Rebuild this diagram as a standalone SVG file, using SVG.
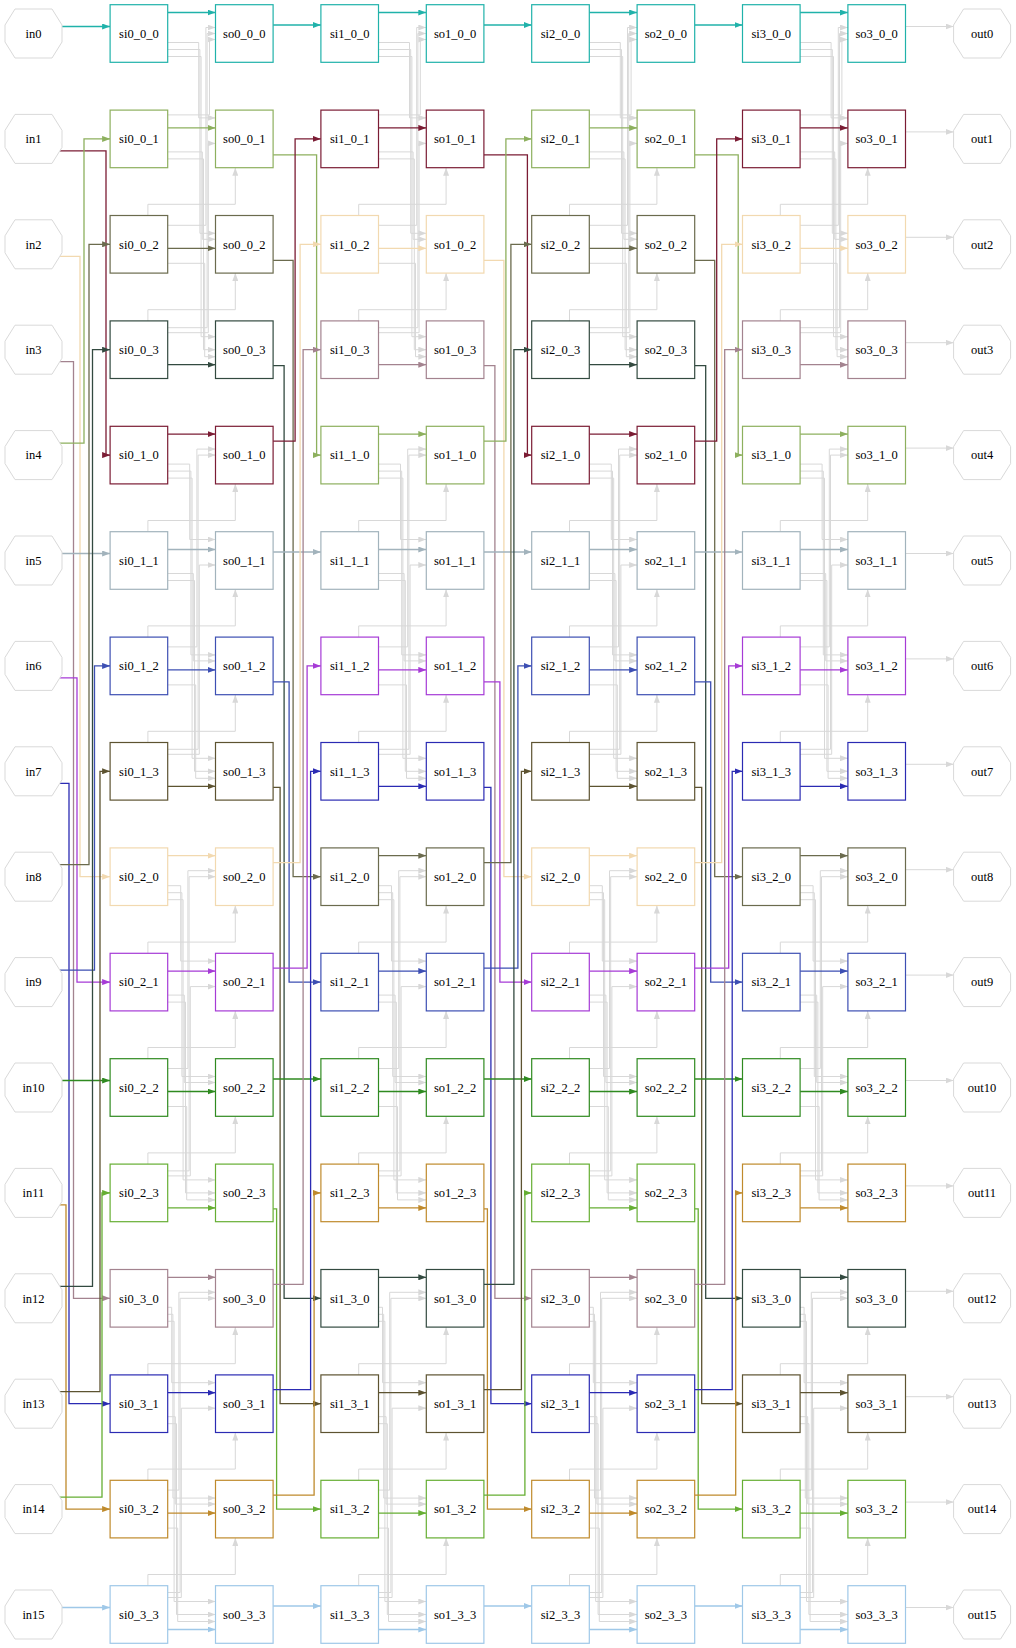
<svg xmlns="http://www.w3.org/2000/svg" xmlns:xlink="http://www.w3.org/1999/xlink" width="1016" height="1648" viewBox="0 0 1016 1648">
<style>
text{font-family:"Liberation Serif",serif;font-size:12.5px;text-anchor:middle;fill:#000}
.nodes{stroke-width:1.2}
.e path{fill:none;stroke-width:1.3}
.k0{stroke:#20b2aa} path.k0{marker-end:url(#a0)}
.k1{stroke:#7b1c34} path.k1{marker-end:url(#a1)}
.k2{stroke:#f2d9b0} path.k2{marker-end:url(#a2)}
.k3{stroke:#a3838f} path.k3{marker-end:url(#a3)}
.k4{stroke:#8db05e} path.k4{marker-end:url(#a4)}
.k5{stroke:#a2b3bc} path.k5{marker-end:url(#a5)}
.k6{stroke:#a63bd6} path.k6{marker-end:url(#a6)}
.k7{stroke:#2b2bb3} path.k7{marker-end:url(#a7)}
.k8{stroke:#6b6b4e} path.k8{marker-end:url(#a8)}
.k9{stroke:#3d4fb3} path.k9{marker-end:url(#a9)}
.k10{stroke:#2f8a20} path.k10{marker-end:url(#a10)}
.k11{stroke:#bf8a2c} path.k11{marker-end:url(#a11)}
.k12{stroke:#334a40} path.k12{marker-end:url(#a12)}
.k13{stroke:#5d5331} path.k13{marker-end:url(#a13)}
.k14{stroke:#66ae33} path.k14{marker-end:url(#a14)}
.k15{stroke:#9fc8e8} path.k15{marker-end:url(#a15)}
.g path{fill:none;stroke:#d8d8d8;stroke-width:1;marker-end:url(#ag)}
</style>
<defs>
<marker id="a0" viewBox="0 0 8 6" refX="8" refY="3" markerWidth="8" markerHeight="6" markerUnits="userSpaceOnUse" orient="auto"><path d="M0,0L8,3L0,6z" fill="#20b2aa"/></marker>
<marker id="a1" viewBox="0 0 8 6" refX="8" refY="3" markerWidth="8" markerHeight="6" markerUnits="userSpaceOnUse" orient="auto"><path d="M0,0L8,3L0,6z" fill="#7b1c34"/></marker>
<marker id="a2" viewBox="0 0 8 6" refX="8" refY="3" markerWidth="8" markerHeight="6" markerUnits="userSpaceOnUse" orient="auto"><path d="M0,0L8,3L0,6z" fill="#f2d9b0"/></marker>
<marker id="a3" viewBox="0 0 8 6" refX="8" refY="3" markerWidth="8" markerHeight="6" markerUnits="userSpaceOnUse" orient="auto"><path d="M0,0L8,3L0,6z" fill="#a3838f"/></marker>
<marker id="a4" viewBox="0 0 8 6" refX="8" refY="3" markerWidth="8" markerHeight="6" markerUnits="userSpaceOnUse" orient="auto"><path d="M0,0L8,3L0,6z" fill="#8db05e"/></marker>
<marker id="a5" viewBox="0 0 8 6" refX="8" refY="3" markerWidth="8" markerHeight="6" markerUnits="userSpaceOnUse" orient="auto"><path d="M0,0L8,3L0,6z" fill="#a2b3bc"/></marker>
<marker id="a6" viewBox="0 0 8 6" refX="8" refY="3" markerWidth="8" markerHeight="6" markerUnits="userSpaceOnUse" orient="auto"><path d="M0,0L8,3L0,6z" fill="#a63bd6"/></marker>
<marker id="a7" viewBox="0 0 8 6" refX="8" refY="3" markerWidth="8" markerHeight="6" markerUnits="userSpaceOnUse" orient="auto"><path d="M0,0L8,3L0,6z" fill="#2b2bb3"/></marker>
<marker id="a8" viewBox="0 0 8 6" refX="8" refY="3" markerWidth="8" markerHeight="6" markerUnits="userSpaceOnUse" orient="auto"><path d="M0,0L8,3L0,6z" fill="#6b6b4e"/></marker>
<marker id="a9" viewBox="0 0 8 6" refX="8" refY="3" markerWidth="8" markerHeight="6" markerUnits="userSpaceOnUse" orient="auto"><path d="M0,0L8,3L0,6z" fill="#3d4fb3"/></marker>
<marker id="a10" viewBox="0 0 8 6" refX="8" refY="3" markerWidth="8" markerHeight="6" markerUnits="userSpaceOnUse" orient="auto"><path d="M0,0L8,3L0,6z" fill="#2f8a20"/></marker>
<marker id="a11" viewBox="0 0 8 6" refX="8" refY="3" markerWidth="8" markerHeight="6" markerUnits="userSpaceOnUse" orient="auto"><path d="M0,0L8,3L0,6z" fill="#bf8a2c"/></marker>
<marker id="a12" viewBox="0 0 8 6" refX="8" refY="3" markerWidth="8" markerHeight="6" markerUnits="userSpaceOnUse" orient="auto"><path d="M0,0L8,3L0,6z" fill="#334a40"/></marker>
<marker id="a13" viewBox="0 0 8 6" refX="8" refY="3" markerWidth="8" markerHeight="6" markerUnits="userSpaceOnUse" orient="auto"><path d="M0,0L8,3L0,6z" fill="#5d5331"/></marker>
<marker id="a14" viewBox="0 0 8 6" refX="8" refY="3" markerWidth="8" markerHeight="6" markerUnits="userSpaceOnUse" orient="auto"><path d="M0,0L8,3L0,6z" fill="#66ae33"/></marker>
<marker id="a15" viewBox="0 0 8 6" refX="8" refY="3" markerWidth="8" markerHeight="6" markerUnits="userSpaceOnUse" orient="auto"><path d="M0,0L8,3L0,6z" fill="#9fc8e8"/></marker>
<marker id="ag" viewBox="0 0 8 6" refX="8" refY="3" markerWidth="8" markerHeight="6" markerUnits="userSpaceOnUse" orient="auto"><path d="M0,0L8,3L0,6z" fill="#d8d8d8"/></marker>
<rect id="bx" width="57.6" height="57.6" fill="#fff"/>
<polygon id="oc" points="-18.5,-24.5 18.5,-24.5 28.5,-8.5 28.5,8.5 18.5,24.5 -18.5,24.5 -28.5,8.5 -28.5,-8.5" fill="#fff" stroke="#d9d9d9" stroke-width="1"/>
<g id="xa0" fill="none" stroke="#d8d8d8" stroke-width="1" marker-end="url(#ag)">
<path d="M28.8,9H59.8V84.4H76.6"/><path d="M28.8,16H61V199.8H76.6"/><path d="M28.8,23H62.2V303.2H76.6"/>
<path d="M28.8,118.4H63.4V205.8H76.6"/><path d="M28.8,125.4H64.6V316.2H76.6"/><path d="M28.8,229.8H65.8V323.2H76.6"/>
<path d="M28.8,191.8H67V-6H76.6"/><path d="M28.8,294.2H68.2V0H76.6"/><path d="M28.8,299.2H69.4V109.9H76.6"/>
<path d="M28.8,81.4H70.6V6H76.6"/><path d="M9,182V170.8H96.4V134.2"/><path d="M9,287.4V276.2H96.4V239.6"/>
</g>
<g id="xa1" fill="none" stroke="#d8d8d8" stroke-width="1" marker-end="url(#ag)">
<path d="M28.8,9H50.8V84.4H76.6"/><path d="M28.8,16H52V199.8H76.6"/><path d="M28.8,23H53.2V303.2H76.6"/>
<path d="M28.8,118.4H54.4V205.8H76.6"/><path d="M28.8,125.4H55.6V316.2H76.6"/><path d="M28.8,229.8H56.8V323.2H76.6"/>
<path d="M28.8,191.8H58V-6H76.6"/><path d="M28.8,294.2H59.2V0H76.6"/><path d="M28.8,299.2H60.4V109.9H76.6"/>
<path d="M9,76.6V65.4H96.4V28.8"/><path d="M9,182V170.8H96.4V134.2"/><path d="M9,287.4V276.2H96.4V239.6"/>
</g>
<g id="xa2" fill="none" stroke="#d8d8d8" stroke-width="1" marker-end="url(#ag)">
<path d="M28.8,9H41.8V84.4H76.6"/><path d="M28.8,16H43V199.8H76.6"/><path d="M28.8,23H44.2V303.2H76.6"/>
<path d="M28.8,118.4H45.4V205.8H76.6"/><path d="M28.8,125.4H46.6V316.2H76.6"/><path d="M28.8,229.8H47.8V323.2H76.6"/>
<path d="M28.8,191.8H49V-6H76.6"/><path d="M28.8,294.2H50.2V0H76.6"/><path d="M28.8,299.2H51.4V109.9H76.6"/>
<path d="M9,76.6V65.4H96.4V28.8"/><path d="M9,182V170.8H96.4V134.2"/><path d="M9,287.4V276.2H96.4V239.6"/>
</g>
<g id="xa3" fill="none" stroke="#d8d8d8" stroke-width="1" marker-end="url(#ag)">
<path d="M28.8,9H32.8V84.4H76.6"/><path d="M28.8,16H34V199.8H76.6"/><path d="M28.8,23H35.2V303.2H76.6"/>
<path d="M28.8,118.4H36.4V205.8H76.6"/><path d="M28.8,125.4H37.6V316.2H76.6"/><path d="M28.8,229.8H38.8V323.2H76.6"/>
<path d="M28.8,191.8H40V-6H76.6"/><path d="M28.8,294.2H41.2V0H76.6"/><path d="M28.8,299.2H42.4V109.9H76.6"/>
<path d="M9,76.6V65.4H96.4V28.8"/><path d="M9,182V170.8H96.4V134.2"/><path d="M9,287.4V276.2H96.4V239.6"/>
</g>
</defs>
<rect width="1016" height="1648" fill="#fff"/>
<g id="connectors">
<g class="g">
<use href="#xa0" x="138.9" y="33.5"/><use href="#xa1" x="138.9" y="455.1"/><use href="#xa2" x="138.9" y="876.7"/><use href="#xa3" x="138.9" y="1298.3"/>
<use href="#xa0" x="349.7" y="33.5"/><use href="#xa1" x="349.7" y="455.1"/><use href="#xa2" x="349.7" y="876.7"/><use href="#xa3" x="349.7" y="1298.3"/>
<use href="#xa0" x="560.5" y="33.5"/><use href="#xa1" x="560.5" y="455.1"/><use href="#xa2" x="560.5" y="876.7"/><use href="#xa3" x="560.5" y="1298.3"/>
<use href="#xa0" x="771.3" y="33.5"/><use href="#xa1" x="771.3" y="455.1"/><use href="#xa2" x="771.3" y="876.7"/><use href="#xa3" x="771.3" y="1298.3"/>
<path d="M905.5,26.5H953.6"/><path d="M905.5,131.9H953.6"/><path d="M905.5,237.3H953.6"/><path d="M905.5,342.7H953.6"/>
<path d="M905.5,448.1H953.6"/><path d="M905.5,553.5H953.6"/><path d="M905.5,658.9H953.6"/><path d="M905.5,764.3H953.6"/>
<path d="M905.5,869.7H953.6"/><path d="M905.5,975.1H953.6"/><path d="M905.5,1080.5H953.6"/><path d="M905.5,1185.9H953.6"/>
<path d="M905.5,1291.3H953.6"/><path d="M905.5,1396.7H953.6"/><path d="M905.5,1502.1H953.6"/><path d="M905.5,1607.5H953.6"/>
</g>
<g class="e">
<path class="k0" d="M62,26.5H110.1"/>
<path class="k1" d="M60.1,150.9H106V455.1H110.1"/>
<path class="k2" d="M60.1,256.3H80V876.7H110.1"/>
<path class="k3" d="M60.1,361.7H73.5V1298.3H110.1"/>
<path class="k4" d="M60.1,443.1H84V138.9H110.1"/>
<path class="k5" d="M62,553.5H110.1"/>
<path class="k6" d="M60.1,677.9H77V982.1H110.1"/>
<path class="k7" d="M60.1,783.3H69V1403.7H110.1"/>
<path class="k8" d="M60.1,864.7H89V244.3H110.1"/>
<path class="k9" d="M60.1,970.1H94.5V665.9H110.1"/>
<path class="k10" d="M62,1080.5H110.1"/>
<path class="k11" d="M60.1,1204.9H66V1509.1H110.1"/>
<path class="k12" d="M60.1,1286.3H92.5V349.7H110.1"/>
<path class="k13" d="M60.1,1391.7H100V771.3H110.1"/>
<path class="k14" d="M60.1,1497.1H102V1192.9H110.1"/>
<path class="k15" d="M62,1607.5H110.1"/>

<path class="k0" d="M167.7,12.5H215.5"/><path class="k4" d="M167.7,127.9H215.5"/><path class="k8" d="M167.7,248.3H215.5"/><path class="k12" d="M167.7,364.7H215.5"/>
<path class="k1" d="M167.7,434.1H215.5"/><path class="k5" d="M167.7,549.5H215.5"/><path class="k9" d="M167.7,669.9H215.5"/><path class="k13" d="M167.7,786.3H215.5"/>
<path class="k2" d="M167.7,855.7H215.5"/><path class="k6" d="M167.7,971.1H215.5"/><path class="k10" d="M167.7,1091.5H215.5"/><path class="k14" d="M167.7,1207.9H215.5"/>
<path class="k3" d="M167.7,1277.3H215.5"/><path class="k7" d="M167.7,1392.7H215.5"/><path class="k11" d="M167.7,1513.1H215.5"/><path class="k15" d="M167.7,1629.5H215.5"/>

<path class="k0" d="M378.5,12.5H426.3"/><path class="k1" d="M378.5,127.9H426.3"/><path class="k2" d="M378.5,248.3H426.3"/><path class="k3" d="M378.5,364.7H426.3"/>
<path class="k4" d="M378.5,434.1H426.3"/><path class="k5" d="M378.5,549.5H426.3"/><path class="k6" d="M378.5,669.9H426.3"/><path class="k7" d="M378.5,786.3H426.3"/>
<path class="k8" d="M378.5,855.7H426.3"/><path class="k9" d="M378.5,971.1H426.3"/><path class="k10" d="M378.5,1091.5H426.3"/><path class="k11" d="M378.5,1207.9H426.3"/>
<path class="k12" d="M378.5,1277.3H426.3"/><path class="k13" d="M378.5,1392.7H426.3"/><path class="k14" d="M378.5,1513.1H426.3"/><path class="k15" d="M378.5,1629.5H426.3"/>

<path class="k0" d="M589.3,12.5H637.1"/><path class="k4" d="M589.3,127.9H637.1"/><path class="k8" d="M589.3,248.3H637.1"/><path class="k12" d="M589.3,364.7H637.1"/>
<path class="k1" d="M589.3,434.1H637.1"/><path class="k5" d="M589.3,549.5H637.1"/><path class="k9" d="M589.3,669.9H637.1"/><path class="k13" d="M589.3,786.3H637.1"/>
<path class="k2" d="M589.3,855.7H637.1"/><path class="k6" d="M589.3,971.1H637.1"/><path class="k10" d="M589.3,1091.5H637.1"/><path class="k14" d="M589.3,1207.9H637.1"/>
<path class="k3" d="M589.3,1277.3H637.1"/><path class="k7" d="M589.3,1392.7H637.1"/><path class="k11" d="M589.3,1513.1H637.1"/><path class="k15" d="M589.3,1629.5H637.1"/>

<path class="k0" d="M800.1,12.5H847.9"/><path class="k1" d="M800.1,127.9H847.9"/><path class="k2" d="M800.1,248.3H847.9"/><path class="k3" d="M800.1,364.7H847.9"/>
<path class="k4" d="M800.1,434.1H847.9"/><path class="k5" d="M800.1,549.5H847.9"/><path class="k6" d="M800.1,669.9H847.9"/><path class="k7" d="M800.1,786.3H847.9"/>
<path class="k8" d="M800.1,855.7H847.9"/><path class="k9" d="M800.1,971.1H847.9"/><path class="k10" d="M800.1,1091.5H847.9"/><path class="k11" d="M800.1,1207.9H847.9"/>
<path class="k12" d="M800.1,1277.3H847.9"/><path class="k13" d="M800.1,1392.7H847.9"/><path class="k14" d="M800.1,1513.1H847.9"/><path class="k15" d="M800.1,1629.5H847.9"/>

<path class="k0" d="M273.1,25H320.9"/>
<path class="k4" d="M273.1,154.9H316.6V455.1H320.9"/>
<path class="k8" d="M273.1,260.3H293.1V876.7H320.9"/>
<path class="k12" d="M273.1,365.7H284.1V1298.3H320.9"/>
<path class="k1" d="M273.1,441.1H295.1V138.9H320.9"/>
<path class="k5" d="M273.1,552H320.9"/>
<path class="k9" d="M273.1,681.9H289.1V982.1H320.9"/>
<path class="k13" d="M273.1,787.3H280.1V1403.7H320.9"/>
<path class="k2" d="M273.1,862.7H300.1V244.3H320.9"/>
<path class="k6" d="M273.1,968.1H307.1V665.9H320.9"/>
<path class="k10" d="M273.1,1079H320.9"/>
<path class="k14" d="M273.1,1208.9H276.6V1509.1H320.9"/>
<path class="k3" d="M273.1,1284.3H303.1V349.7H320.9"/>
<path class="k7" d="M273.1,1389.7H310.6V771.3H320.9"/>
<path class="k11" d="M273.1,1495.1H314.1V1192.9H320.9"/>
<path class="k15" d="M273.1,1606H320.9"/>

<path class="k0" d="M483.9,25H531.7"/>
<path class="k1" d="M483.9,154.9H527.4V455.1H531.7"/>
<path class="k2" d="M483.9,260.3H503.9V876.7H531.7"/>
<path class="k3" d="M483.9,365.7H494.9V1298.3H531.7"/>
<path class="k4" d="M483.9,441.1H505.9V138.9H531.7"/>
<path class="k5" d="M483.9,552H531.7"/>
<path class="k6" d="M483.9,681.9H499.9V982.1H531.7"/>
<path class="k7" d="M483.9,787.3H490.9V1403.7H531.7"/>
<path class="k8" d="M483.9,862.7H510.9V244.3H531.7"/>
<path class="k9" d="M483.9,968.1H517.9V665.9H531.7"/>
<path class="k10" d="M483.9,1079H531.7"/>
<path class="k11" d="M483.9,1208.9H487.4V1509.1H531.7"/>
<path class="k12" d="M483.9,1284.3H513.9V349.7H531.7"/>
<path class="k13" d="M483.9,1389.7H521.4V771.3H531.7"/>
<path class="k14" d="M483.9,1495.1H524.9V1192.9H531.7"/>
<path class="k15" d="M483.9,1606H531.7"/>

<path class="k0" d="M694.7,25H742.5"/>
<path class="k4" d="M694.7,154.9H738.2V455.1H742.5"/>
<path class="k8" d="M694.7,260.3H714.7V876.7H742.5"/>
<path class="k12" d="M694.7,365.7H705.7V1298.3H742.5"/>
<path class="k1" d="M694.7,441.1H716.7V138.9H742.5"/>
<path class="k5" d="M694.7,552H742.5"/>
<path class="k9" d="M694.7,681.9H710.7V982.1H742.5"/>
<path class="k13" d="M694.7,787.3H701.7V1403.7H742.5"/>
<path class="k2" d="M694.7,862.7H721.7V244.3H742.5"/>
<path class="k6" d="M694.7,968.1H728.7V665.9H742.5"/>
<path class="k10" d="M694.7,1079H742.5"/>
<path class="k14" d="M694.7,1208.9H698.2V1509.1H742.5"/>
<path class="k3" d="M694.7,1284.3H724.7V349.7H742.5"/>
<path class="k7" d="M694.7,1389.7H732.2V771.3H742.5"/>
<path class="k11" d="M694.7,1495.1H735.7V1192.9H742.5"/>
<path class="k15" d="M694.7,1606H742.5"/>
</g>
</g>
<g class="nodes">
<g id="in0"><use href="#oc" x="33.5" y="33.5"/><text x="33.5" y="37.8">in0</text></g>
<g id="in1"><use href="#oc" x="33.5" y="138.9"/><text x="33.5" y="143.2">in1</text></g>
<g id="in2"><use href="#oc" x="33.5" y="244.3"/><text x="33.5" y="248.6">in2</text></g>
<g id="in3"><use href="#oc" x="33.5" y="349.7"/><text x="33.5" y="354">in3</text></g>
<g id="in4"><use href="#oc" x="33.5" y="455.1"/><text x="33.5" y="459.4">in4</text></g>
<g id="in5"><use href="#oc" x="33.5" y="560.5"/><text x="33.5" y="564.8">in5</text></g>
<g id="in6"><use href="#oc" x="33.5" y="665.9"/><text x="33.5" y="670.2">in6</text></g>
<g id="in7"><use href="#oc" x="33.5" y="771.3"/><text x="33.5" y="775.6">in7</text></g>
<g id="in8"><use href="#oc" x="33.5" y="876.7"/><text x="33.5" y="881">in8</text></g>
<g id="in9"><use href="#oc" x="33.5" y="982.1"/><text x="33.5" y="986.4">in9</text></g>
<g id="in10"><use href="#oc" x="33.5" y="1087.5"/><text x="33.5" y="1091.8">in10</text></g>
<g id="in11"><use href="#oc" x="33.5" y="1192.9"/><text x="33.5" y="1197.2">in11</text></g>
<g id="in12"><use href="#oc" x="33.5" y="1298.3"/><text x="33.5" y="1302.6">in12</text></g>
<g id="in13"><use href="#oc" x="33.5" y="1403.7"/><text x="33.5" y="1408">in13</text></g>
<g id="in14"><use href="#oc" x="33.5" y="1509.1"/><text x="33.5" y="1513.4">in14</text></g>
<g id="in15"><use href="#oc" x="33.5" y="1614.5"/><text x="33.5" y="1618.8">in15</text></g>

<g id="out0"><use href="#oc" x="982.1" y="33.5"/><text x="982.1" y="37.8">out0</text></g>
<g id="out1"><use href="#oc" x="982.1" y="138.9"/><text x="982.1" y="143.2">out1</text></g>
<g id="out2"><use href="#oc" x="982.1" y="244.3"/><text x="982.1" y="248.6">out2</text></g>
<g id="out3"><use href="#oc" x="982.1" y="349.7"/><text x="982.1" y="354">out3</text></g>
<g id="out4"><use href="#oc" x="982.1" y="455.1"/><text x="982.1" y="459.4">out4</text></g>
<g id="out5"><use href="#oc" x="982.1" y="560.5"/><text x="982.1" y="564.8">out5</text></g>
<g id="out6"><use href="#oc" x="982.1" y="665.9"/><text x="982.1" y="670.2">out6</text></g>
<g id="out7"><use href="#oc" x="982.1" y="771.3"/><text x="982.1" y="775.6">out7</text></g>
<g id="out8"><use href="#oc" x="982.1" y="876.7"/><text x="982.1" y="881">out8</text></g>
<g id="out9"><use href="#oc" x="982.1" y="982.1"/><text x="982.1" y="986.4">out9</text></g>
<g id="out10"><use href="#oc" x="982.1" y="1087.5"/><text x="982.1" y="1091.8">out10</text></g>
<g id="out11"><use href="#oc" x="982.1" y="1192.9"/><text x="982.1" y="1197.2">out11</text></g>
<g id="out12"><use href="#oc" x="982.1" y="1298.3"/><text x="982.1" y="1302.6">out12</text></g>
<g id="out13"><use href="#oc" x="982.1" y="1403.7"/><text x="982.1" y="1408">out13</text></g>
<g id="out14"><use href="#oc" x="982.1" y="1509.1"/><text x="982.1" y="1513.4">out14</text></g>
<g id="out15"><use href="#oc" x="982.1" y="1614.5"/><text x="982.1" y="1618.8">out15</text></g>

<g id="si0_0_0"><use href="#bx" class="k0" x="110.1" y="4.7"/><text x="138.9" y="37.8">si0_0_0</text></g>
<g id="si0_0_1"><use href="#bx" class="k4" x="110.1" y="110.1"/><text x="138.9" y="143.2">si0_0_1</text></g>
<g id="si0_0_2"><use href="#bx" class="k8" x="110.1" y="215.5"/><text x="138.9" y="248.6">si0_0_2</text></g>
<g id="si0_0_3"><use href="#bx" class="k12" x="110.1" y="320.9"/><text x="138.9" y="354">si0_0_3</text></g>
<g id="si0_1_0"><use href="#bx" class="k1" x="110.1" y="426.3"/><text x="138.9" y="459.4">si0_1_0</text></g>
<g id="si0_1_1"><use href="#bx" class="k5" x="110.1" y="531.7"/><text x="138.9" y="564.8">si0_1_1</text></g>
<g id="si0_1_2"><use href="#bx" class="k9" x="110.1" y="637.1"/><text x="138.9" y="670.2">si0_1_2</text></g>
<g id="si0_1_3"><use href="#bx" class="k13" x="110.1" y="742.5"/><text x="138.9" y="775.6">si0_1_3</text></g>
<g id="si0_2_0"><use href="#bx" class="k2" x="110.1" y="847.9"/><text x="138.9" y="881">si0_2_0</text></g>
<g id="si0_2_1"><use href="#bx" class="k6" x="110.1" y="953.3"/><text x="138.9" y="986.4">si0_2_1</text></g>
<g id="si0_2_2"><use href="#bx" class="k10" x="110.1" y="1058.7"/><text x="138.9" y="1091.8">si0_2_2</text></g>
<g id="si0_2_3"><use href="#bx" class="k14" x="110.1" y="1164.1"/><text x="138.9" y="1197.2">si0_2_3</text></g>
<g id="si0_3_0"><use href="#bx" class="k3" x="110.1" y="1269.5"/><text x="138.9" y="1302.6">si0_3_0</text></g>
<g id="si0_3_1"><use href="#bx" class="k7" x="110.1" y="1374.9"/><text x="138.9" y="1408">si0_3_1</text></g>
<g id="si0_3_2"><use href="#bx" class="k11" x="110.1" y="1480.3"/><text x="138.9" y="1513.4">si0_3_2</text></g>
<g id="si0_3_3"><use href="#bx" class="k15" x="110.1" y="1585.7"/><text x="138.9" y="1618.8">si0_3_3</text></g>

<g id="so0_0_0"><use href="#bx" class="k0" x="215.5" y="4.7"/><text x="244.3" y="37.8">so0_0_0</text></g>
<g id="so0_0_1"><use href="#bx" class="k4" x="215.5" y="110.1"/><text x="244.3" y="143.2">so0_0_1</text></g>
<g id="so0_0_2"><use href="#bx" class="k8" x="215.5" y="215.5"/><text x="244.3" y="248.6">so0_0_2</text></g>
<g id="so0_0_3"><use href="#bx" class="k12" x="215.5" y="320.9"/><text x="244.3" y="354">so0_0_3</text></g>
<g id="so0_1_0"><use href="#bx" class="k1" x="215.5" y="426.3"/><text x="244.3" y="459.4">so0_1_0</text></g>
<g id="so0_1_1"><use href="#bx" class="k5" x="215.5" y="531.7"/><text x="244.3" y="564.8">so0_1_1</text></g>
<g id="so0_1_2"><use href="#bx" class="k9" x="215.5" y="637.1"/><text x="244.3" y="670.2">so0_1_2</text></g>
<g id="so0_1_3"><use href="#bx" class="k13" x="215.5" y="742.5"/><text x="244.3" y="775.6">so0_1_3</text></g>
<g id="so0_2_0"><use href="#bx" class="k2" x="215.5" y="847.9"/><text x="244.3" y="881">so0_2_0</text></g>
<g id="so0_2_1"><use href="#bx" class="k6" x="215.5" y="953.3"/><text x="244.3" y="986.4">so0_2_1</text></g>
<g id="so0_2_2"><use href="#bx" class="k10" x="215.5" y="1058.7"/><text x="244.3" y="1091.8">so0_2_2</text></g>
<g id="so0_2_3"><use href="#bx" class="k14" x="215.5" y="1164.1"/><text x="244.3" y="1197.2">so0_2_3</text></g>
<g id="so0_3_0"><use href="#bx" class="k3" x="215.5" y="1269.5"/><text x="244.3" y="1302.6">so0_3_0</text></g>
<g id="so0_3_1"><use href="#bx" class="k7" x="215.5" y="1374.9"/><text x="244.3" y="1408">so0_3_1</text></g>
<g id="so0_3_2"><use href="#bx" class="k11" x="215.5" y="1480.3"/><text x="244.3" y="1513.4">so0_3_2</text></g>
<g id="so0_3_3"><use href="#bx" class="k15" x="215.5" y="1585.7"/><text x="244.3" y="1618.8">so0_3_3</text></g>

<g id="si1_0_0"><use href="#bx" class="k0" x="320.9" y="4.7"/><text x="349.7" y="37.8">si1_0_0</text></g>
<g id="si1_0_1"><use href="#bx" class="k1" x="320.9" y="110.1"/><text x="349.7" y="143.2">si1_0_1</text></g>
<g id="si1_0_2"><use href="#bx" class="k2" x="320.9" y="215.5"/><text x="349.7" y="248.6">si1_0_2</text></g>
<g id="si1_0_3"><use href="#bx" class="k3" x="320.9" y="320.9"/><text x="349.7" y="354">si1_0_3</text></g>
<g id="si1_1_0"><use href="#bx" class="k4" x="320.9" y="426.3"/><text x="349.7" y="459.4">si1_1_0</text></g>
<g id="si1_1_1"><use href="#bx" class="k5" x="320.9" y="531.7"/><text x="349.7" y="564.8">si1_1_1</text></g>
<g id="si1_1_2"><use href="#bx" class="k6" x="320.9" y="637.1"/><text x="349.7" y="670.2">si1_1_2</text></g>
<g id="si1_1_3"><use href="#bx" class="k7" x="320.9" y="742.5"/><text x="349.7" y="775.6">si1_1_3</text></g>
<g id="si1_2_0"><use href="#bx" class="k8" x="320.9" y="847.9"/><text x="349.7" y="881">si1_2_0</text></g>
<g id="si1_2_1"><use href="#bx" class="k9" x="320.9" y="953.3"/><text x="349.7" y="986.4">si1_2_1</text></g>
<g id="si1_2_2"><use href="#bx" class="k10" x="320.9" y="1058.7"/><text x="349.7" y="1091.8">si1_2_2</text></g>
<g id="si1_2_3"><use href="#bx" class="k11" x="320.9" y="1164.1"/><text x="349.7" y="1197.2">si1_2_3</text></g>
<g id="si1_3_0"><use href="#bx" class="k12" x="320.9" y="1269.5"/><text x="349.7" y="1302.6">si1_3_0</text></g>
<g id="si1_3_1"><use href="#bx" class="k13" x="320.9" y="1374.9"/><text x="349.7" y="1408">si1_3_1</text></g>
<g id="si1_3_2"><use href="#bx" class="k14" x="320.9" y="1480.3"/><text x="349.7" y="1513.4">si1_3_2</text></g>
<g id="si1_3_3"><use href="#bx" class="k15" x="320.9" y="1585.7"/><text x="349.7" y="1618.8">si1_3_3</text></g>

<g id="so1_0_0"><use href="#bx" class="k0" x="426.3" y="4.7"/><text x="455.1" y="37.8">so1_0_0</text></g>
<g id="so1_0_1"><use href="#bx" class="k1" x="426.3" y="110.1"/><text x="455.1" y="143.2">so1_0_1</text></g>
<g id="so1_0_2"><use href="#bx" class="k2" x="426.3" y="215.5"/><text x="455.1" y="248.6">so1_0_2</text></g>
<g id="so1_0_3"><use href="#bx" class="k3" x="426.3" y="320.9"/><text x="455.1" y="354">so1_0_3</text></g>
<g id="so1_1_0"><use href="#bx" class="k4" x="426.3" y="426.3"/><text x="455.1" y="459.4">so1_1_0</text></g>
<g id="so1_1_1"><use href="#bx" class="k5" x="426.3" y="531.7"/><text x="455.1" y="564.8">so1_1_1</text></g>
<g id="so1_1_2"><use href="#bx" class="k6" x="426.3" y="637.1"/><text x="455.1" y="670.2">so1_1_2</text></g>
<g id="so1_1_3"><use href="#bx" class="k7" x="426.3" y="742.5"/><text x="455.1" y="775.6">so1_1_3</text></g>
<g id="so1_2_0"><use href="#bx" class="k8" x="426.3" y="847.9"/><text x="455.1" y="881">so1_2_0</text></g>
<g id="so1_2_1"><use href="#bx" class="k9" x="426.3" y="953.3"/><text x="455.1" y="986.4">so1_2_1</text></g>
<g id="so1_2_2"><use href="#bx" class="k10" x="426.3" y="1058.7"/><text x="455.1" y="1091.8">so1_2_2</text></g>
<g id="so1_2_3"><use href="#bx" class="k11" x="426.3" y="1164.1"/><text x="455.1" y="1197.2">so1_2_3</text></g>
<g id="so1_3_0"><use href="#bx" class="k12" x="426.3" y="1269.5"/><text x="455.1" y="1302.6">so1_3_0</text></g>
<g id="so1_3_1"><use href="#bx" class="k13" x="426.3" y="1374.9"/><text x="455.1" y="1408">so1_3_1</text></g>
<g id="so1_3_2"><use href="#bx" class="k14" x="426.3" y="1480.3"/><text x="455.1" y="1513.4">so1_3_2</text></g>
<g id="so1_3_3"><use href="#bx" class="k15" x="426.3" y="1585.7"/><text x="455.1" y="1618.8">so1_3_3</text></g>

<g id="si2_0_0"><use href="#bx" class="k0" x="531.7" y="4.7"/><text x="560.5" y="37.8">si2_0_0</text></g>
<g id="si2_0_1"><use href="#bx" class="k4" x="531.7" y="110.1"/><text x="560.5" y="143.2">si2_0_1</text></g>
<g id="si2_0_2"><use href="#bx" class="k8" x="531.7" y="215.5"/><text x="560.5" y="248.6">si2_0_2</text></g>
<g id="si2_0_3"><use href="#bx" class="k12" x="531.7" y="320.9"/><text x="560.5" y="354">si2_0_3</text></g>
<g id="si2_1_0"><use href="#bx" class="k1" x="531.7" y="426.3"/><text x="560.5" y="459.4">si2_1_0</text></g>
<g id="si2_1_1"><use href="#bx" class="k5" x="531.7" y="531.7"/><text x="560.5" y="564.8">si2_1_1</text></g>
<g id="si2_1_2"><use href="#bx" class="k9" x="531.7" y="637.1"/><text x="560.5" y="670.2">si2_1_2</text></g>
<g id="si2_1_3"><use href="#bx" class="k13" x="531.7" y="742.5"/><text x="560.5" y="775.6">si2_1_3</text></g>
<g id="si2_2_0"><use href="#bx" class="k2" x="531.7" y="847.9"/><text x="560.5" y="881">si2_2_0</text></g>
<g id="si2_2_1"><use href="#bx" class="k6" x="531.7" y="953.3"/><text x="560.5" y="986.4">si2_2_1</text></g>
<g id="si2_2_2"><use href="#bx" class="k10" x="531.7" y="1058.7"/><text x="560.5" y="1091.8">si2_2_2</text></g>
<g id="si2_2_3"><use href="#bx" class="k14" x="531.7" y="1164.1"/><text x="560.5" y="1197.2">si2_2_3</text></g>
<g id="si2_3_0"><use href="#bx" class="k3" x="531.7" y="1269.5"/><text x="560.5" y="1302.6">si2_3_0</text></g>
<g id="si2_3_1"><use href="#bx" class="k7" x="531.7" y="1374.9"/><text x="560.5" y="1408">si2_3_1</text></g>
<g id="si2_3_2"><use href="#bx" class="k11" x="531.7" y="1480.3"/><text x="560.5" y="1513.4">si2_3_2</text></g>
<g id="si2_3_3"><use href="#bx" class="k15" x="531.7" y="1585.7"/><text x="560.5" y="1618.8">si2_3_3</text></g>

<g id="so2_0_0"><use href="#bx" class="k0" x="637.1" y="4.7"/><text x="665.9" y="37.8">so2_0_0</text></g>
<g id="so2_0_1"><use href="#bx" class="k4" x="637.1" y="110.1"/><text x="665.9" y="143.2">so2_0_1</text></g>
<g id="so2_0_2"><use href="#bx" class="k8" x="637.1" y="215.5"/><text x="665.9" y="248.6">so2_0_2</text></g>
<g id="so2_0_3"><use href="#bx" class="k12" x="637.1" y="320.9"/><text x="665.9" y="354">so2_0_3</text></g>
<g id="so2_1_0"><use href="#bx" class="k1" x="637.1" y="426.3"/><text x="665.9" y="459.4">so2_1_0</text></g>
<g id="so2_1_1"><use href="#bx" class="k5" x="637.1" y="531.7"/><text x="665.9" y="564.8">so2_1_1</text></g>
<g id="so2_1_2"><use href="#bx" class="k9" x="637.1" y="637.1"/><text x="665.9" y="670.2">so2_1_2</text></g>
<g id="so2_1_3"><use href="#bx" class="k13" x="637.1" y="742.5"/><text x="665.9" y="775.6">so2_1_3</text></g>
<g id="so2_2_0"><use href="#bx" class="k2" x="637.1" y="847.9"/><text x="665.9" y="881">so2_2_0</text></g>
<g id="so2_2_1"><use href="#bx" class="k6" x="637.1" y="953.3"/><text x="665.9" y="986.4">so2_2_1</text></g>
<g id="so2_2_2"><use href="#bx" class="k10" x="637.1" y="1058.7"/><text x="665.9" y="1091.8">so2_2_2</text></g>
<g id="so2_2_3"><use href="#bx" class="k14" x="637.1" y="1164.1"/><text x="665.9" y="1197.2">so2_2_3</text></g>
<g id="so2_3_0"><use href="#bx" class="k3" x="637.1" y="1269.5"/><text x="665.9" y="1302.6">so2_3_0</text></g>
<g id="so2_3_1"><use href="#bx" class="k7" x="637.1" y="1374.9"/><text x="665.9" y="1408">so2_3_1</text></g>
<g id="so2_3_2"><use href="#bx" class="k11" x="637.1" y="1480.3"/><text x="665.9" y="1513.4">so2_3_2</text></g>
<g id="so2_3_3"><use href="#bx" class="k15" x="637.1" y="1585.7"/><text x="665.9" y="1618.8">so2_3_3</text></g>

<g id="si3_0_0"><use href="#bx" class="k0" x="742.5" y="4.7"/><text x="771.3" y="37.8">si3_0_0</text></g>
<g id="si3_0_1"><use href="#bx" class="k1" x="742.5" y="110.1"/><text x="771.3" y="143.2">si3_0_1</text></g>
<g id="si3_0_2"><use href="#bx" class="k2" x="742.5" y="215.5"/><text x="771.3" y="248.6">si3_0_2</text></g>
<g id="si3_0_3"><use href="#bx" class="k3" x="742.5" y="320.9"/><text x="771.3" y="354">si3_0_3</text></g>
<g id="si3_1_0"><use href="#bx" class="k4" x="742.5" y="426.3"/><text x="771.3" y="459.4">si3_1_0</text></g>
<g id="si3_1_1"><use href="#bx" class="k5" x="742.5" y="531.7"/><text x="771.3" y="564.8">si3_1_1</text></g>
<g id="si3_1_2"><use href="#bx" class="k6" x="742.5" y="637.1"/><text x="771.3" y="670.2">si3_1_2</text></g>
<g id="si3_1_3"><use href="#bx" class="k7" x="742.5" y="742.5"/><text x="771.3" y="775.6">si3_1_3</text></g>
<g id="si3_2_0"><use href="#bx" class="k8" x="742.5" y="847.9"/><text x="771.3" y="881">si3_2_0</text></g>
<g id="si3_2_1"><use href="#bx" class="k9" x="742.5" y="953.3"/><text x="771.3" y="986.4">si3_2_1</text></g>
<g id="si3_2_2"><use href="#bx" class="k10" x="742.5" y="1058.7"/><text x="771.3" y="1091.8">si3_2_2</text></g>
<g id="si3_2_3"><use href="#bx" class="k11" x="742.5" y="1164.1"/><text x="771.3" y="1197.2">si3_2_3</text></g>
<g id="si3_3_0"><use href="#bx" class="k12" x="742.5" y="1269.5"/><text x="771.3" y="1302.6">si3_3_0</text></g>
<g id="si3_3_1"><use href="#bx" class="k13" x="742.5" y="1374.9"/><text x="771.3" y="1408">si3_3_1</text></g>
<g id="si3_3_2"><use href="#bx" class="k14" x="742.5" y="1480.3"/><text x="771.3" y="1513.4">si3_3_2</text></g>
<g id="si3_3_3"><use href="#bx" class="k15" x="742.5" y="1585.7"/><text x="771.3" y="1618.8">si3_3_3</text></g>

<g id="so3_0_0"><use href="#bx" class="k0" x="847.9" y="4.7"/><text x="876.7" y="37.8">so3_0_0</text></g>
<g id="so3_0_1"><use href="#bx" class="k1" x="847.9" y="110.1"/><text x="876.7" y="143.2">so3_0_1</text></g>
<g id="so3_0_2"><use href="#bx" class="k2" x="847.9" y="215.5"/><text x="876.7" y="248.6">so3_0_2</text></g>
<g id="so3_0_3"><use href="#bx" class="k3" x="847.9" y="320.9"/><text x="876.7" y="354">so3_0_3</text></g>
<g id="so3_1_0"><use href="#bx" class="k4" x="847.9" y="426.3"/><text x="876.7" y="459.4">so3_1_0</text></g>
<g id="so3_1_1"><use href="#bx" class="k5" x="847.9" y="531.7"/><text x="876.7" y="564.8">so3_1_1</text></g>
<g id="so3_1_2"><use href="#bx" class="k6" x="847.9" y="637.1"/><text x="876.7" y="670.2">so3_1_2</text></g>
<g id="so3_1_3"><use href="#bx" class="k7" x="847.9" y="742.5"/><text x="876.7" y="775.6">so3_1_3</text></g>
<g id="so3_2_0"><use href="#bx" class="k8" x="847.9" y="847.9"/><text x="876.7" y="881">so3_2_0</text></g>
<g id="so3_2_1"><use href="#bx" class="k9" x="847.9" y="953.3"/><text x="876.7" y="986.4">so3_2_1</text></g>
<g id="so3_2_2"><use href="#bx" class="k10" x="847.9" y="1058.7"/><text x="876.7" y="1091.8">so3_2_2</text></g>
<g id="so3_2_3"><use href="#bx" class="k11" x="847.9" y="1164.1"/><text x="876.7" y="1197.2">so3_2_3</text></g>
<g id="so3_3_0"><use href="#bx" class="k12" x="847.9" y="1269.5"/><text x="876.7" y="1302.6">so3_3_0</text></g>
<g id="so3_3_1"><use href="#bx" class="k13" x="847.9" y="1374.9"/><text x="876.7" y="1408">so3_3_1</text></g>
<g id="so3_3_2"><use href="#bx" class="k14" x="847.9" y="1480.3"/><text x="876.7" y="1513.4">so3_3_2</text></g>
<g id="so3_3_3"><use href="#bx" class="k15" x="847.9" y="1585.7"/><text x="876.7" y="1618.8">so3_3_3</text></g>
</g>
</svg>
